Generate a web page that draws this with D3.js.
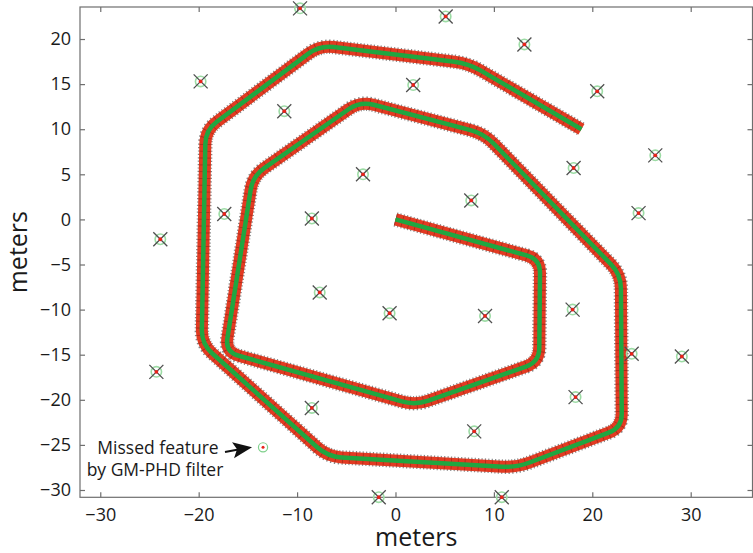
<!DOCTYPE html>
<html>
<head>
<meta charset="utf-8">
<script src="https://cdn.jsdelivr.net/npm/d3@7"></script>
<style>
  html, body { margin: 0; padding: 0; background: #fff; }
  svg { display: block; }
  text { font-family: "Open Sans", "Noto Sans", sans-serif; fill: #1a1a1a; }
</style>
</head>
<body>
<svg id="chart" width="753" height="553"></svg>
<script>
// Vehicle trajectory (metres), spiral from the origin outwards
const trajX = [0, 14.7, 14.6, 2.0, -17.3, -14.5, -3.6, 9.0, 22.9, 23.0, 12.3, -6.9, -19.7, -19.3, -7.7, 7.4, 18.9];
const trajY = [0, -4.4, -15.8, -20.6, -14.7, 4.8, 13.1, 9.5, -6.1, -23.1, -27.5, -26.3, -13.8, 9.9, 19.3, 17.3, 10.0];

// Map features (metres)
const featX = [-9.7, 5.1, 13.1, -19.8, 1.8, 20.5, -11.3, 26.4, -3.3, 18.1, -17.4, -8.5, 7.7, 24.7,
               -23.9, -7.7, -0.6, 9.1, 18.0, 24.0, 29.1, -24.3, 18.3, -8.5, 8.0, -1.7, 10.8];
const featY = [23.4, 22.5, 19.4, 15.3, 14.9, 14.2, 12.0, 7.1, 5.0, 5.7, 0.6, 0.1, 2.1, 0.7,
               -2.2, -8.1, -10.4, -10.7, -10.0, -14.9, -15.2, -16.9, -19.7, -20.9, -23.5, -30.8, -30.8];

// Feature not picked up by the filter
const missedX = [-13.46];
const missedY = [-25.27];
const missedLabel = ["Missed feature", "by GM-PHD filter"];

// Axis ticks and limits
const xTicks = [-30, -20, -10, 0, 10, 20, 30];
const yTicks = [-30, -25, -20, -15, -10, -5, 0, 5, 10, 15, 20];
const xLimits = [-32.06, 36.28];
const yLimits = [-30.81, 23.55];
const axisTitle = "meters";

const svg = d3.select("#chart");
const plotL = 80, plotR = 752.5, plotT = 7, plotB = 497.3;

const x = d3.scaleLinear().domain(xLimits).range([plotL, plotR]);
const y = d3.scaleLinear().domain(yLimits).range([plotB, plotT]);

const axisColor = "#6e6e6e";
const tickLen = 5;

// Axes box
svg.append("rect")
  .attr("x", plotL).attr("y", plotT)
  .attr("width", plotR - plotL).attr("height", plotB - plotT)
  .attr("fill", "none").attr("stroke", axisColor).attr("stroke-width", 1.2);

function styleAxis(g) {
  g.select(".domain").remove();
  g.selectAll(".tick line").attr("stroke", axisColor).attr("stroke-width", 1.2);
  g.selectAll(".tick text").attr("font-size", 18).attr("fill", "#1a1a1a")
    .style("font-family", "'Open Sans', 'Noto Sans', sans-serif");
}
const fmt = d => d < 0 ? "\u2212" + Math.abs(d) : String(d);

svg.append("g").attr("transform", `translate(0,${plotB})`)
  .call(d3.axisBottom(x).tickValues(xTicks).tickFormat(fmt).tickSizeInner(-tickLen).tickSizeOuter(0).tickPadding(11))
  .call(styleAxis);
svg.append("g").attr("transform", `translate(0,${plotT})`)
  .call(d3.axisTop(x).tickValues(xTicks).tickFormat("").tickSizeInner(-tickLen).tickSizeOuter(0))
  .call(styleAxis);
svg.append("g").attr("transform", `translate(${plotL},0)`)
  .call(d3.axisLeft(y).tickValues(yTicks).tickFormat(fmt).tickSizeInner(-tickLen).tickSizeOuter(0).tickPadding(9))
  .call(styleAxis);
svg.append("g").attr("transform", `translate(${plotR},0)`)
  .call(d3.axisRight(y).tickValues(yTicks).tickFormat("").tickSizeInner(-tickLen).tickSizeOuter(0))
  .call(styleAxis);

// Axis titles
svg.append("text")
  .attr("x", (plotL + plotR) / 2).attr("y", 546)
  .attr("text-anchor", "middle").attr("font-size", 25)
  .text(axisTitle);
svg.append("text")
  .attr("transform", `translate(27,${(plotT + plotB) / 2}) rotate(-90)`)
  .attr("text-anchor", "middle").attr("font-size", 25)
  .text(axisTitle);

// Trajectory with rounded turns
const trajPts = trajX.map((v, i) => [x(v), y(trajY[i])]);
function roundedPath(pts, r) {
  const p = d3.path();
  p.moveTo(pts[0][0], pts[0][1]);
  for (let i = 1; i < pts.length - 1; i++) {
    const [px, py] = pts[i - 1], [cx, cy] = pts[i], [nx, ny] = pts[i + 1];
    const d1 = Math.hypot(cx - px, cy - py), d2 = Math.hypot(nx - cx, ny - cy);
    const rr = Math.min(r, d1 / 2, d2 / 2);
    p.lineTo(cx - (cx - px) / d1 * rr, cy - (cy - py) / d1 * rr);
    p.quadraticCurveTo(cx, cy, cx + (nx - cx) / d2 * rr, cy + (ny - cy) / d2 * rr);
  }
  const last = pts[pts.length - 1];
  p.lineTo(last[0], last[1]);
  return p.toString();
}
const trajD = roundedPath(trajPts, 14);

const traj = svg.append("g").attr("fill", "none").attr("stroke-linejoin", "round");
// dark estimate samples along the edges
traj.append("path").attr("d", trajD)
  .attr("stroke", "#222").attr("stroke-width", 14.5)
  .attr("stroke-dasharray", "1.2 2.2").attr("opacity", 0.55);
// ground-truth band
traj.append("path").attr("d", trajD)
  .attr("stroke", "#e23a22").attr("stroke-width", 12);
// scattered samples across the band
traj.append("path").attr("d", trajD)
  .attr("stroke", "#3a1208").attr("stroke-width", 11)
  .attr("stroke-dasharray", "0.8 6").attr("opacity", 0.35);
// estimated path
traj.append("path").attr("d", trajD)
  .attr("stroke", "#20a641").attr("stroke-width", 4.5);

// Features: green circle, grey cross, red centre
const feats = svg.append("g").selectAll("g")
  .data(featX.map((v, i) => [v, featY[i]]))
  .join("g")
  .attr("transform", d => `translate(${x(d[0])},${y(d[1])})`);
feats.append("circle").attr("r", 5.2)
  .attr("fill", "none").attr("stroke", "#9ddca5").attr("stroke-width", 1.6);
feats.append("path").attr("d", "M-7,-7L7,7M-7,7L7,-7")
  .attr("stroke", "#505050").attr("stroke-width", 1.3);
feats.append("circle").attr("r", 1.9).attr("fill", "#e8231a");

// Missed feature
const missed = svg.append("g")
  .attr("transform", `translate(${x(missedX[0])},${y(missedY[0])})`);
missed.append("circle").attr("r", 4.6)
  .attr("fill", "none").attr("stroke", "#7fd08c").attr("stroke-width", 1.2);
missed.append("circle").attr("r", 1.5).attr("fill", "#e8231a");

// Annotation
const ann = svg.append("g");
ann.append("text").attr("x", 158).attr("y", 454)
  .attr("text-anchor", "middle").attr("font-size", 17.5).text(missedLabel[0]);
ann.append("text").attr("x", 155).attr("y", 476)
  .attr("text-anchor", "middle").attr("font-size", 17.5).text(missedLabel[1]);
const mx = x(missedX[0]), my = y(missedY[0]);
ann.append("line")
  .attr("x1", 225).attr("y1", 452).attr("x2", mx - 18).attr("y2", my + 1)
  .attr("stroke", "#111").attr("stroke-width", 2);
ann.append("path")
  .attr("d", `M${mx - 11},${my}L${mx - 31},${my - 5}L${mx - 26},${my + 2}L${mx - 29},${my + 11}Z`)
  .attr("fill", "#111");
</script>
</body>
</html>
